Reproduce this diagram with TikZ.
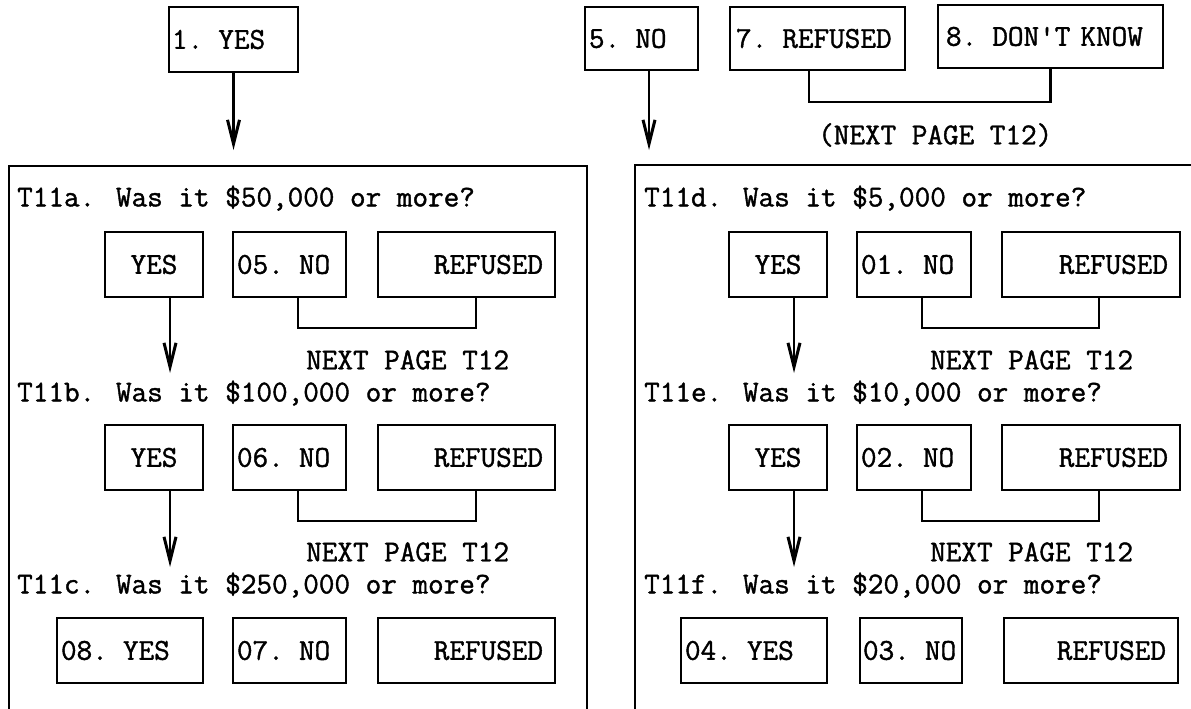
\documentclass[tikz,border=0pt]{standalone}
\usepackage{fontspec}
\usetikzlibrary{arrows.meta}
\newfontfamily\twfam{Latin Modern Mono}[FakeBold=1.3]
\newcommand\tw{\twfam\fontsize{30.3}{34}\selectfont}
\begin{document}
\begin{tikzpicture}[x=1pt,y=-1pt,
  cell/.style={draw, line width=2.3pt, inner ysep=0pt, font=\tw, minimum height=65pt},
  txt/.style={inner sep=0pt, font=\tw, anchor=west},
  link/.style={line width=2.3pt},
  frame/.style={line width=2.3pt},
  arr/.style={line width=2.3pt, -{Straight Barb[length=24pt,width=12pt,line width=3pt]}}]
\useasboundingbox (0,0) rectangle (1191,709);
% ---------- top row ----------
\node[cell, text width=123pt, inner xsep=3pt, align=left] (yes1) at (233.5,39.5) {1. YES};
\node[cell, text width=105pt, inner xsep=4pt, align=left, minimum height=63pt] (no5) at (641.5,38.5) {5. NO};
\node[cell, text width=163pt, inner xsep=6pt, align=left, minimum height=63pt] (ref7) at (817.5,38.5) {7. REFUSED};
\node[cell, text width=209pt, inner xsep=8pt, align=left, minimum height=63pt] (dk8) at (1050.5,36.5) {8. DON'T KNOW};
\coordinate (t1) at (233.5,150);
\coordinate (t5) at (649,150);
\draw[arr] (yes1) -- (t1);
\draw[arr] ([xshift=7.5pt]no5.south) -- (t5);
\draw[link] ([xshift=-8.5pt]ref7.south) |- ([yshift=-33pt]dk8.south) -- (dk8.south);
\node[txt] (ntop) at (818,135) {(NEXT PAGE T12)};
% ---------- frames ----------
\draw[frame] (9,712) -- (9,166) -- (587,166) -- (587,712);
\draw[frame] (635,712) -- (635,165) -- (1195,165);
% ---------- left column ----------
\node[txt] (qa) at (17,198) {T11a. Was it \$50,000 or more?};
\node[cell, text width=90pt, inner xsep=4pt, align=center] (yesA) at (154,264.5) {YES};
\node[cell, text width=105pt, inner xsep=4pt, align=left] (noA) at (289.5,264.5) {05. NO};
\node[cell, text width=153pt, inner xsep=12pt, align=right] (refA) at (466.5,264.5) {REFUSED};
\draw[link] ([xshift=8.5pt]noA.south) |- ([xshift=9.5pt,yshift=-30pt]refA.south) -- ([xshift=9.5pt]refA.south);
\coordinate (tA) at (170,373);
\draw[arr] ([xshift=16pt]yesA.south) -- (tA);
\node[txt] (nA) at (306,360) {NEXT PAGE T12};

\node[txt] (qb) at (17,393) {T11b. Was it \$100,000 or more?};
\node[cell, text width=90pt, inner xsep=4pt, align=center] (yesB) at (154,457.5) {YES};
\node[cell, text width=105pt, inner xsep=4pt, align=left] (noB) at (289.5,457.5) {06. NO};
\node[cell, text width=153pt, inner xsep=12pt, align=right] (refB) at (466.5,457.5) {REFUSED};
\draw[link] ([xshift=8.5pt]noB.south) |- ([xshift=9.5pt,yshift=-30pt]refB.south) -- ([xshift=9.5pt]refB.south);
\coordinate (tB) at (170,567);
\draw[arr] ([xshift=16pt]yesB.south) -- (tB);
\node[txt] (nB) at (306,552) {NEXT PAGE T12};

\node[txt] (qc) at (17,585) {T11c. Was it \$250,000 or more?};
\node[cell, text width=138pt, inner xsep=4pt, align=left] (yesC) at (130,650.5) {08. YES};
\node[cell, text width=105pt, inner xsep=4pt, align=left] (noC) at (289.5,650.5) {07. NO};
\node[cell, text width=153pt, inner xsep=12pt, align=right] (refC) at (466.5,650.5) {REFUSED};
% ---------- right column ----------
\node[txt] (qd) at (644,198) {T11d. Was it \$5,000 or more?};
\node[cell, text width=90pt, inner xsep=4pt, align=center] (yesD) at (778,264.5) {YES};
\node[cell, text width=106pt, inner xsep=4pt, align=left] (noD) at (914,264.5) {01. NO};
\node[cell, text width=154pt, inner xsep=12pt, align=right] (refD) at (1091,264.5) {REFUSED};
\draw[link] ([xshift=8pt]noD.south) |- ([xshift=8pt,yshift=-30pt]refD.south) -- ([xshift=8pt]refD.south);
\coordinate (tD) at (794,373);
\draw[arr] ([xshift=16pt]yesD.south) -- (tD);
\node[txt] (nD) at (930,360) {NEXT PAGE T12};

\node[txt] (qe) at (644,393) {T11e. Was it \$10,000 or more?};
\node[cell, text width=90pt, inner xsep=4pt, align=center] (yesE) at (778,457.5) {YES};
\node[cell, text width=106pt, inner xsep=4pt, align=left] (noE) at (914,457.5) {02. NO};
\node[cell, text width=154pt, inner xsep=12pt, align=right] (refE) at (1091,457.5) {REFUSED};
\draw[link] ([xshift=8pt]noE.south) |- ([xshift=8pt,yshift=-30pt]refE.south) -- ([xshift=8pt]refE.south);
\coordinate (tE) at (794,567);
\draw[arr] ([xshift=16pt]yesE.south) -- (tE);
\node[txt] (nE) at (930,552) {NEXT PAGE T12};

\node[txt] (qf) at (644,585) {T11f. Was it \$20,000 or more?};
\node[cell, text width=138pt, inner xsep=4pt, align=left] (yesF) at (754,650.5) {04. YES};
\node[cell, text width=96pt, inner xsep=3pt, align=left] (noF) at (911,650.5) {03. NO};
\node[cell, text width=150pt, inner xsep=12pt, align=right] (refF) at (1091,650.5) {REFUSED};
\end{tikzpicture}
\end{document}
